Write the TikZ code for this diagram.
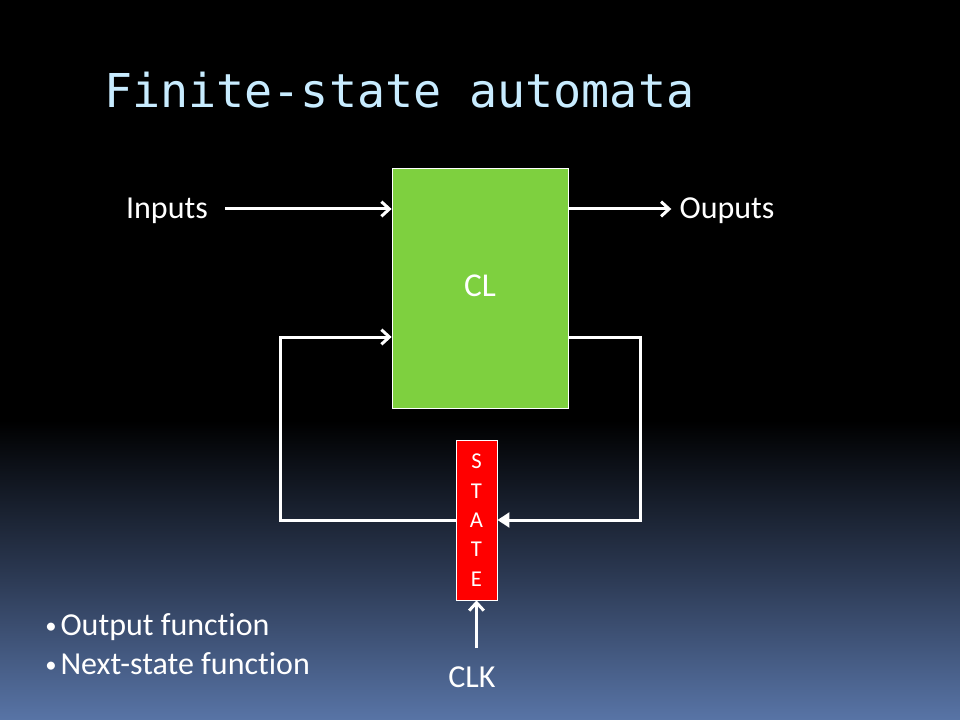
\documentclass[tikz,border=0pt]{standalone}
\usepackage{fontspec}
\setmainfont{Carlito}[Ligatures=NoCommon]
\newfontfamily\titlefont{DejaVu Sans Mono}
\usetikzlibrary{arrows.meta}
\definecolor{clgreen}{RGB}{126,208,63}
\definecolor{titleblue}{RGB}{200,236,255}
\definecolor{bgbot}{RGB}{88,116,166}
\definecolor{bgmid}{RGB}{42,55,80}
\pgfdeclareverticalshading{slidebg}{100bp}{color(0bp)=(bgbot); color(25bp)=(bgbot); color(35.4bp)=(bgmid); color(45.8bp)=(black); color(100bp)=(black)}
\newcommand\dotitem{{\fontsize{17}{17}\selectfont\raisebox{1.5pt}{\textbullet}}\hspace{3pt}}
\begin{document}
\begin{tikzpicture}[x=0.75pt,y=-0.75pt,
  conn/.style={draw=white,line width=2.25pt,-{Straight Barb[length=6pt,width=11pt]}},
  box/.style={draw=white,line width=0.6pt,text=white},
  txt/.style={text=white,inner sep=0pt}]
\fill[shading=slidebg] (0,0) rectangle (960,720);
\useasboundingbox (0,0) rectangle (960,720);

\node(T)[text=titleblue,font=\titlefont\fontsize{35}{40}\selectfont,anchor=base west,inner sep=0pt] at (104,108) {Finite-state automata};

\node(CL)[box,fill=clgreen,minimum width=132pt,minimum height=180pt,font=\fontsize{25}{30}\selectfont] at (480,288) {\raisebox{4pt}{CL}};
\node(S)[box,fill=red,minimum width=30.75pt,minimum height=120pt,inner sep=0pt,align=center,font=\fontsize{17}{22}\selectfont] at (476.5,520) {S\\T\\A\\T\\E};

\node(I)[txt,anchor=base,font=\fontsize{24}{28}\selectfont] at (167,219) {Inputs};
\node(O)[txt,anchor=base,font=\fontsize{24}{28}\selectfont] at (727,219) {Ouputs};
\node(K)[txt,font=\fontsize{24}{28}\selectfont] at (472,677) {CLK};

\draw[conn,shorten <=12.5pt] ([yshift=7.5pt]I.base east) -- (CL.west |- 0,209);
\draw[conn,shorten >=6pt] (CL.east |- 0,209) -- ([yshift=7.5pt]O.base west);

% feedback loop through the state register
\draw[conn,-{Triangle[length=9pt,width=11pt]}] (CL.east |- 0,337) -- (640,337) |- (S.east);
\draw[conn] (S.west) -- (280,520) |- (CL.west |- 0,337);
\draw[conn] (S.south |- 0,648) -- (S.south);

\node(B1)[txt,anchor=west,font=\fontsize{24}{28}\selectfont] at (45,627) {\dotitem Output function};
\node(B2)[txt,anchor=west,font=\fontsize{24}{28}\selectfont] at (45,664) {\dotitem Next-state function};
\end{tikzpicture}
\end{document}
